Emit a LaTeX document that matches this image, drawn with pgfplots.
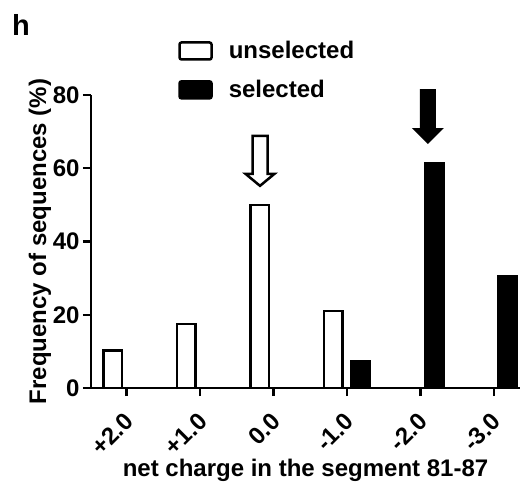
\documentclass[border=0pt]{standalone}
\usepackage{pgfplots}
\pgfplotsset{compat=1.18}
\usepackage{fontspec}
\setmainfont{Liberation Sans}

\newcommand{\lbl}{\bfseries\fontsize{24}{28}\selectfont}
\pgfplotsset{
  boxlegend/.style={legend image code/.code={%
    \draw[##1, line width=2.5pt, rounded corners=2pt] (0pt,-8.5pt) rectangle (32pt,8.5pt);}},
}

\begin{document}
\begin{tikzpicture}
\begin{axis}[
  scale only axis, width=429pt, height=293pt,
  ybar, bar width=18.5pt,
  xmin=-0.486, xmax=5.355, ymin=0, ymax=80,
  axis x line*=bottom, axis y line*=left,
  axis line style={line width=2.5pt},
  ytick={0,20,40,60,80},
  xtick={0,...,5},
  xticklabels={+2.0,+1.0,0.0,-1.0,-2.0,-3.0},
  tick align=outside, major tick length=8pt,
  tick style={line width=2.5pt, black},
  /pgf/number format/assume math mode=true,
  ticklabel style={font=\lbl},
  xticklabel style={yshift=-19pt, xshift=5pt, rotate=45, anchor=east},
  xlabel={net charge in the segment 81-87},
  ylabel={Frequency of sequences (\%)},
  label style={font=\lbl},
  xlabel style={at={(axis description cs:0.5,-0.28)}, anchor=center},
  ylabel style={at={(axis description cs:-0.119,0.5)}, anchor=center},
  clip=false,
  legend style={at={(axis description cs:0.203,1.19)}, anchor=north west,
    draw=none, fill=none, font=\lbl, inner sep=0pt, row sep=16pt,
    /tikz/every odd column/.append style={column sep=14pt}},
  legend cell align=left,
]
\addplot[boxlegend, draw=black, fill=white, line width=2.5pt, bar shift=-13.75pt]
  coordinates {(0,10.3) (1,17.5) (2,50.0) (3,21.0)};
\addplot[boxlegend, draw=black, fill=black, line width=2.5pt, bar shift=13.75pt]
  coordinates {(3,7.3) (4,61.4) (5,30.5)};
\legend{unselected, selected}
\coordinate (a1) at (axis cs:1.815,55.2);
\coordinate (a2) at (axis cs:4.10,66.6);
\node[font=\bfseries\fontsize{29}{30}\selectfont] at (axis description cs:-0.163,1.239) {h};
\coordinate (bl) at (axis description cs:-0.2121,-0.3242);
\coordinate (tr) at (axis description cs:1.0023,1.3242);
\end{axis}
% arrows pointing at the modal bars
\draw[line width=2.5pt, fill=white] (a1) -- ++(-14.5pt,12pt) -- ++(7pt,0pt) -- ++(0pt,38pt)
  -- ++(15pt,0pt) -- ++(0pt,-38pt) -- ++(7pt,0pt) -- cycle;
\fill[black] (a2) -- ++(-16pt,16pt) -- ++(8pt,0pt) -- ++(0pt,39pt)
  -- ++(16pt,0pt) -- ++(0pt,-39pt) -- ++(8pt,0pt) -- cycle;
\pgfresetboundingbox
\path[use as bounding box] (bl) rectangle (tr);
\end{tikzpicture}
\end{document}
